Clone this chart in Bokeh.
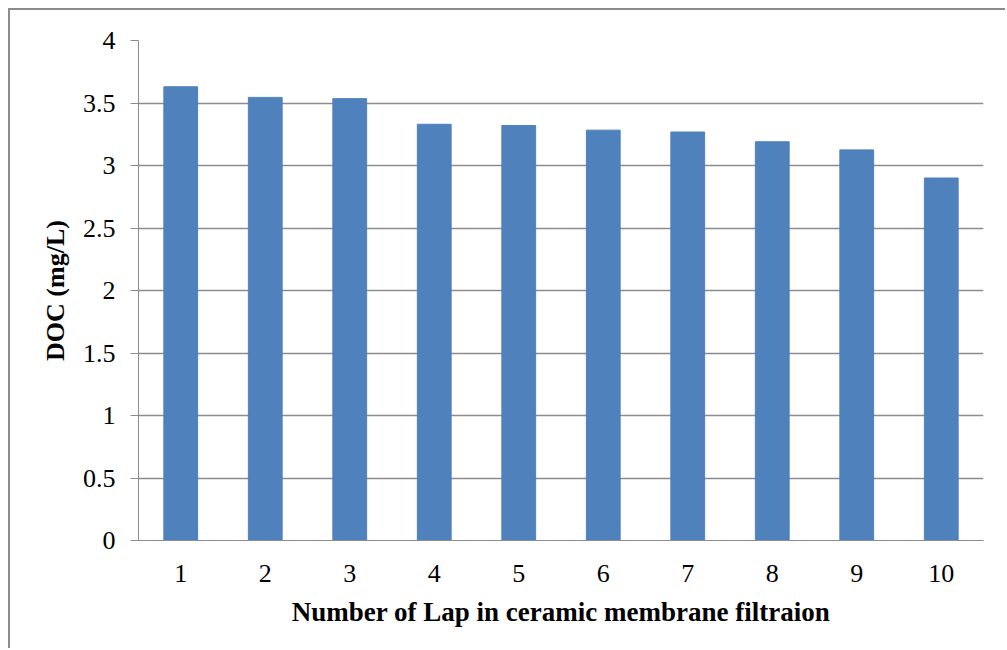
from bokeh.plotting import figure
from bokeh.models import FactorRange, Range1d, FixedTicker
from bokeh.embed import file_html
from bokeh.resources import INLINE

laps = ["1", "2", "3", "4", "5", "6", "7", "8", "9", "10"]
doc = [3.63, 3.545, 3.535, 3.33, 3.32, 3.283, 3.268, 3.19, 3.125, 2.90]
y_ticks = [0, 0.5, 1, 1.5, 2, 2.5, 3, 3.5, 4]
y_tick_labels = ["0", "0.5", "1", "1.5", "2", "2.5", "3", "3.5", "4"]

GRAY = "#8c8c8c"
FONT = "Liberation Serif"

p = figure(width=997, height=640, x_range=FactorRange(*laps, range_padding=0),
           y_range=Range1d(0, 4), output_backend="svg", toolbar_location=None,
           min_border_left=128, min_border_right=24, min_border_top=30, min_border_bottom=110,
           margin=(10, 0, 0, 10))
p.styles = {"box-shadow": "-2px -2px 0px 0px #8c8c8c"}
p.outline_line_color = None
p.background_fill_color = "white"
p.border_fill_color = "white"

p.vbar(x=laps, top=doc, width=0.4, fill_color="#4F81BD", line_color="#4F81BD")

# y axis
p.yaxis.ticker = FixedTicker(ticks=y_ticks)
p.yaxis.major_label_overrides = {t: l for t, l in zip(y_ticks, y_tick_labels)}
p.yaxis.axis_line_color = GRAY
p.yaxis.major_tick_line_color = GRAY
p.yaxis.major_tick_out = 8
p.yaxis.major_tick_in = 0
p.yaxis.minor_tick_line_color = None
p.yaxis.major_label_standoff = 15
p.yaxis.major_label_text_font = FONT
p.yaxis.major_label_text_font_size = "26px"
p.yaxis.major_label_text_color = "black"
p.yaxis.axis_label = "DOC (mg/L)"
p.yaxis.axis_label_text_font = FONT
p.yaxis.axis_label_text_font_style = "bold"
p.yaxis.axis_label_text_font_size = "26px"
p.yaxis.axis_label_text_color = "black"
p.yaxis.axis_label_standoff = 10

# x axis
p.xaxis.axis_line_color = GRAY
p.xaxis.major_tick_line_color = None
p.xaxis.minor_tick_line_color = None
p.xaxis.major_label_standoff = 18
p.xaxis.major_label_text_font = FONT
p.xaxis.major_label_text_font_size = "26px"
p.xaxis.major_label_text_color = "black"
p.xaxis.axis_label = "Number of Lap in ceramic membrane filtraion"
p.xaxis.axis_label_text_font = FONT
p.xaxis.axis_label_text_font_style = "bold"
p.xaxis.axis_label_text_font_size = "27px"
p.xaxis.axis_label_text_color = "black"
p.xaxis.axis_label_standoff = 12

p.xgrid.grid_line_color = None
p.ygrid.grid_line_color = GRAY
p.ygrid.grid_line_width = 1.5
p.ygrid.ticker = FixedTicker(ticks=y_ticks)

open("out.html", "w").write(file_html(p, INLINE))
